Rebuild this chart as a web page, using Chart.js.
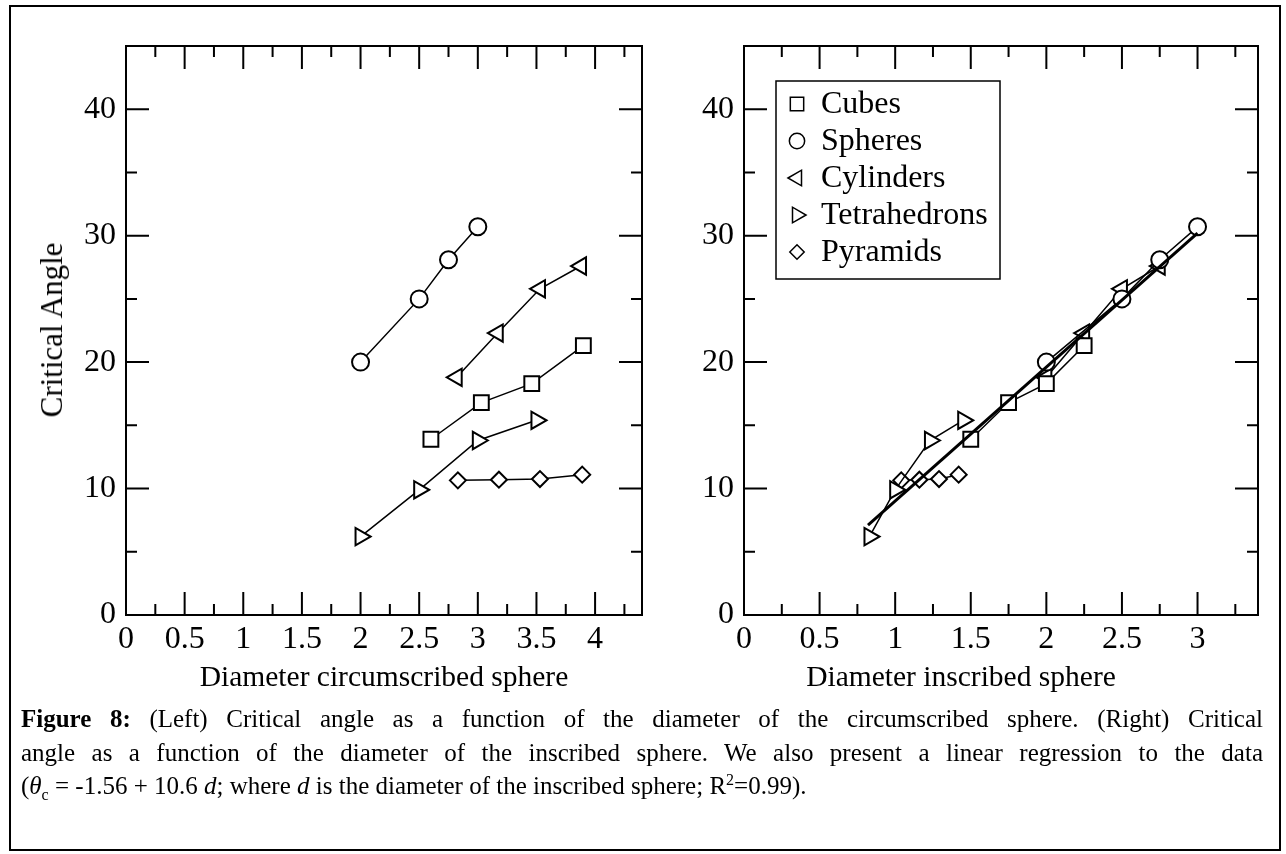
<!DOCTYPE html>
<html>
<head>
<meta charset="utf-8">
<script src="https://cdn.jsdelivr.net/npm/chart.js@4.4.0/dist/chart.umd.min.js"></script>
<style>
body{margin:0;background:#fff;width:1286px;height:854px;position:relative;overflow:hidden;font-family:"Liberation Serif","Times New Roman",serif;}
#frame{position:absolute;left:9px;top:5px;width:1268px;height:842px;border:2px solid #000;box-sizing:content-box;}
#leftChart{position:absolute;left:0;top:0;}
#rightChart{position:absolute;left:660px;top:0;}
#ytitle{position:absolute;left:52px;top:330px;transform:translate(-50%,-50%) rotate(-90deg);font-size:31px;white-space:nowrap;}
#xtitleR{position:absolute;left:961px;top:676px;transform:translate(-50%,-50%);font-size:29.5px;white-space:nowrap;}
#caption{position:absolute;left:21px;top:702px;width:1242px;font-size:25px;line-height:33.5px;}
#caption div{white-space:nowrap;}
#caption .just{text-align:justify;text-align-last:justify;}
#caption sub,#caption sup{font-size:16px;line-height:0;}
</style>
</head>
<body>
<div id="frame"></div>
<canvas id="leftChart" width="660" height="705"></canvas>
<canvas id="rightChart" width="626" height="705"></canvas>
<div id="ytitle">Critical Angle</div>
<div id="xtitleR">Diameter inscribed sphere</div>
<div id="caption">
<div class="just"><b>Figure 8:</b> (Left) Critical angle as a function of the diameter of the circumscribed sphere. (Right) Critical</div>
<div class="just">angle as a function of the diameter of the inscribed sphere. We also present a linear regression to the data</div>
<div>(<i>θ</i><sub>c</sub> = -1.56 + 10.6 <i>d</i>; where <i>d</i> is the diameter of the inscribed sphere; R<sup>2</sup>=0.99).</div>
</div>
<script>
// series
const shapes = ['Cubes', 'Spheres', 'Cylinders', 'Tetrahedrons', 'Pyramids'];
const pointStyles = ['rect', 'circle', 'triangle', 'triangle', 'rectRot'];
const rotations = [0, 0, -90, 90, 0];
const radii = [10.5, 8.5, 10, 10, 8];

// critical angle values
const cubesY = [13.9, 16.8, 18.3, 21.3];
const spheresY = [20.0, 25.0, 28.1, 30.7];
const cylindersY = [18.8, 22.3, 25.8, 27.6];
const tetraY = [6.2, 9.9, 13.8, 15.4];
const pyramidsY = [10.65, 10.7, 10.75, 11.1];

// left: diameter circumscribed sphere
const cubesCircX = [2.6, 3.03, 3.46, 3.9];
const spheresCircX = [2.0, 2.5, 2.75, 3.0];
const cylindersCircX = [2.82, 3.17, 3.53, 3.88];
const tetraCircX = [2.0, 2.5, 3.0, 3.5];
const pyramidsCircX = [2.83, 3.18, 3.53, 3.89];

// right: diameter inscribed sphere
const cubesInsX = [1.5, 1.75, 2.0, 2.25];
const spheresInsX = [2.0, 2.5, 2.75, 3.0];
const cylindersInsX = [2.0, 2.25, 2.5, 2.75];
const tetraInsX = [0.83, 1.0, 1.23, 1.45];
const pyramidsInsX = [1.04, 1.16, 1.29, 1.42];

// regression line ends
const fitX = [0.82, 3.0];
const fitY = [7.1, 30.2];

const allY = [cubesY, spheresY, cylindersY, tetraY, pyramidsY];
const circX = [cubesCircX, spheresCircX, cylindersCircX, tetraCircX, pyramidsCircX];
const insX = [cubesInsX, spheresInsX, cylindersInsX, tetraInsX, pyramidsInsX];

const FONT = '"Liberation Serif", "Times New Roman", serif';

function pts(xs, ys) {
  return xs.map((x, i) => ({x: x, y: ys[i]}));
}

function seriesSets(xsList) {
  return shapes.map((name, i) => ({
    label: name,
    data: pts(xsList[i], allY[i]),
    showLine: true,
    borderColor: '#000',
    borderWidth: 1.5,
    pointStyle: pointStyles[i],
    pointRotation: rotations[i],
    pointRadius: radii[i],
    pointHoverRadius: radii[i],
    pointBorderWidth: 2,
    pointBackgroundColor: '#fff',
    pointBorderColor: '#000'
  }));
}

// box + inward ticks on all four sides
const frameTicks = {
  id: 'frameTicks',
  afterDraw(chart) {
    const {ctx, chartArea: a, scales: {x, y}} = chart;
    ctx.save();
    ctx.strokeStyle = '#000';
    ctx.lineWidth = 2;
    ctx.beginPath();
    for (let i = 1; i * 0.25 < x.max; i++) {
      const px = x.getPixelForValue(i * 0.25);
      const len = i % 2 === 0 ? 23 : 11;
      ctx.moveTo(px, a.bottom); ctx.lineTo(px, a.bottom - len);
      ctx.moveTo(px, a.top); ctx.lineTo(px, a.top + len);
    }
    for (let i = 1; i * 5 < y.max; i++) {
      const py = y.getPixelForValue(i * 5);
      const len = i % 2 === 0 ? 23 : 11;
      ctx.moveTo(a.left, py); ctx.lineTo(a.left + len, py);
      ctx.moveTo(a.right, py); ctx.lineTo(a.right - len, py);
    }
    ctx.stroke();
    ctx.strokeRect(a.left, a.top, a.right - a.left, a.bottom - a.top);
    ctx.restore();
  }
};

const boxLegend = {
  id: 'boxLegend',
  afterDraw(chart) {
    const {ctx, chartArea: a} = chart;
    ctx.save();
    ctx.lineWidth = 1.5;
    ctx.strokeStyle = '#000';
    ctx.fillStyle = '#fff';
    ctx.fillRect(a.left + 32, a.top + 35, 224, 198);
    ctx.strokeRect(a.left + 32, a.top + 35, 224, 198);
    shapes.forEach((name, i) => {
      const cy = a.top + 58 + i * 37;
      ctx.fillStyle = '#fff';
      ctx.strokeStyle = '#000';
      Chart.helpers.drawPoint(ctx, {
        pointStyle: pointStyles[i], rotation: rotations[i],
        radius: radii[i] * 0.9, borderWidth: 1.5
      }, a.left + 53, cy);
      ctx.fillStyle = '#000';
      ctx.font = '32px ' + FONT;
      ctx.textBaseline = 'middle';
      ctx.textAlign = 'left';
      ctx.fillText(name, a.left + 77, cy + 1);
    });
    ctx.restore();
  }
};

function makeScales(xMax, xTitle, yWidth) {
  return {
    x: {
      type: 'linear', min: 0, max: xMax,
      grid: {display: false, drawTicks: false},
      border: {display: false},
      ticks: {stepSize: 0.5, includeBounds: false, padding: 5, color: '#000',
              maxRotation: 0, autoSkip: false, font: {family: FONT, size: 32},
              callback: v => String(v)},
      title: {display: !!xTitle, text: xTitle, color: '#000',
              font: {family: FONT, size: 29.5}, padding: {top: 9, bottom: 9}},
      afterFit(s) { s.height = 90; }
    },
    y: {
      type: 'linear', min: 0, max: 45,
      grid: {display: false, drawTicks: false},
      border: {display: false},
      ticks: {stepSize: 10, includeBounds: false, padding: 10, color: '#000',
              font: {family: FONT, size: 32}, callback: v => String(v)},
      afterFit(s) { s.width = yWidth; }
    }
  };
}

const common = {
  responsive: false,
  animation: false,
  plugins: {legend: {display: false}, tooltip: {enabled: false}}
};

new Chart(document.getElementById('leftChart'), {
  type: 'scatter',
  data: {datasets: seriesSets(circX)},
  options: Object.assign({}, common, {
    layout: {padding: {top: 46, right: 18, left: 0, bottom: 0}},
    scales: makeScales(4.4, 'Diameter circumscribed sphere', 126)
  }),
  plugins: [frameTicks]
});

const rightSets = seriesSets(insX);
rightSets.push({
  label: 'fit',
  data: pts(fitX, fitY),
  showLine: true,
  borderColor: '#000',
  borderWidth: 3,
  pointRadius: 0,
  order: -1
});

new Chart(document.getElementById('rightChart'), {
  type: 'scatter',
  data: {datasets: rightSets},
  options: Object.assign({}, common, {
    layout: {padding: {top: 46, right: 28, left: 0, bottom: 0}},
    scales: makeScales(3.4, '', 84)
  }),
  plugins: [frameTicks, boxLegend]
});
</script>
</body>
</html>
